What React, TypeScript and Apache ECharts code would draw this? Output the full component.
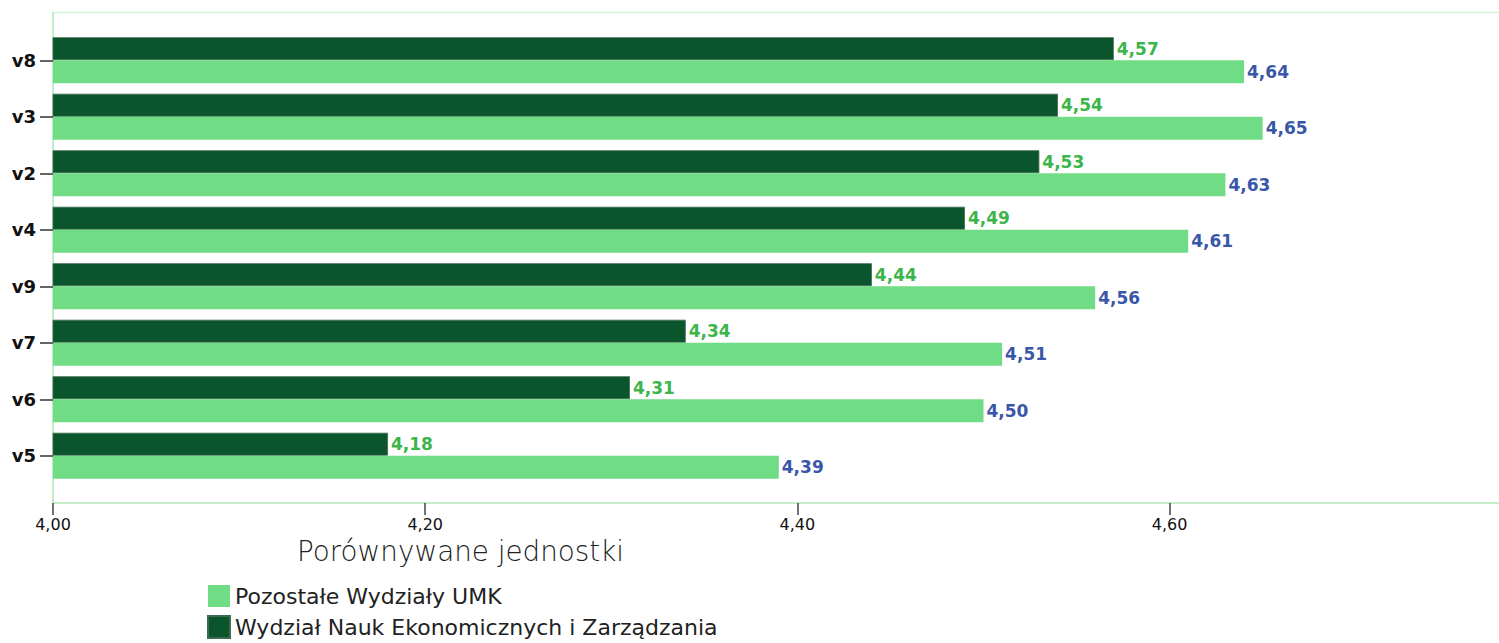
import React, { useEffect, useRef } from "react";
import * as echarts from "echarts";

const categories = ["v5", "v6", "v7", "v9", "v4", "v2", "v3", "v8"];
const pozostale = [4.39, 4.5, 4.51, 4.56, 4.61, 4.63, 4.65, 4.64];
const wydzial = [4.18, 4.31, 4.34, 4.44, 4.49, 4.53, 4.54, 4.57];
const seriesNames = ["Pozostałe Wydziały UMK", "Wydział Nauk Ekonomicznych i Zarządzania"];
const axisTitle = "Porównywane jednostki";

const LIGHT = "#70dc85";
const DARK = "#0b552c";
const FRAME = "#c4ecc8";

const fmt = (v: number) => v.toFixed(2).replace(".", ",");

export default function App() {
  const ref = useRef<HTMLDivElement>(null);
  useEffect(() => {
    if (!ref.current) return;
    const chart = echarts.init(ref.current, undefined, { renderer: "svg" });
    chart.setOption({
      animation: false,
      backgroundColor: "#ffffff",
      grid: { left: 53, right: 0, top: 32, bottom: 159, containLabel: false },
      xAxis: {
        type: "value",
        min: 4.0,
        max: 4.777,
        interval: 0.2,
        offset: 19,
        axisLine: { show: true, lineStyle: { color: FRAME, width: 2 } },
        axisTick: { show: true, length: 12, lineStyle: { color: "#444", width: 1.5 } },
        axisLabel: {
          color: "#111",
          fontSize: 16,
          fontFamily: "DejaVu Sans",
          margin: 13,
          showMaxLabel: false,
          formatter: (v: number) => fmt(v),
        },
        splitLine: { show: false },
      },
      yAxis: {
        type: "category",
        data: categories,
        axisLine: { show: false },
        axisTick: { show: true, alignWithLabel: true, length: 13, lineStyle: { color: "#333", width: 1.5 } },
        axisLabel: {
          color: "#111",
          fontSize: 18,
          fontWeight: "bold",
          fontFamily: "DejaVu Sans",
          margin: 17,
        },
      },
      legend: {
        orient: "vertical",
        left: 207,
        top: 585,
        padding: 0,
        itemWidth: 22,
        itemHeight: 22,
        itemGap: 8,
        icon: "rect",
        textStyle: { fontSize: 22, color: "#222", fontFamily: "DejaVu Sans" },
        data: seriesNames,
      },
      graphic: [
        { type: "line", shape: { x1: 53, y1: 12.5, x2: 1499, y2: 12.5 }, style: { stroke: "#d2f5d6", lineWidth: 1.5 } },
        { type: "line", shape: { x1: 53, y1: 12, x2: 53, y2: 503 }, style: { stroke: FRAME, lineWidth: 2 } },
        {
          type: "text",
          left: 297,
          top: 537,
          style: { text: axisTitle, fontSize: 27.8, fill: "#222", fontFamily: "DejaVu Sans", fontWeight: 300 },
        },
      ],
      series: [
        {
          name: seriesNames[1],
          type: "bar",
          data: wydzial,
          barWidth: 23,
          barGap: "0%",
          itemStyle: { color: DARK, borderColor: "#3d6a50", borderWidth: 0.8 },
          label: {
            show: true,
            position: "right",
            distance: 3,
            color: "#3cb54a",
            fontWeight: "bold",
            fontSize: 17,
            fontFamily: "DejaVu Sans",
            formatter: (p: any) => fmt(p.value),
          },
        },
        {
          name: seriesNames[0],
          type: "bar",
          data: pozostale,
          barWidth: 23,
          barGap: "0%",
          itemStyle: { color: LIGHT },
          label: {
            show: true,
            position: "right",
            distance: 3,
            color: "#3a56a8",
            fontWeight: "bold",
            fontSize: 17,
            fontFamily: "DejaVu Sans",
            formatter: (p: any) => fmt(p.value),
          },
        },
      ],
    });
    return () => chart.dispose();
  }, []);
  return (
    <div
      ref={ref}
      style={{ position: "fixed", left: 0, top: 0, width: 1499, height: 643 }}
    />
  );
}
